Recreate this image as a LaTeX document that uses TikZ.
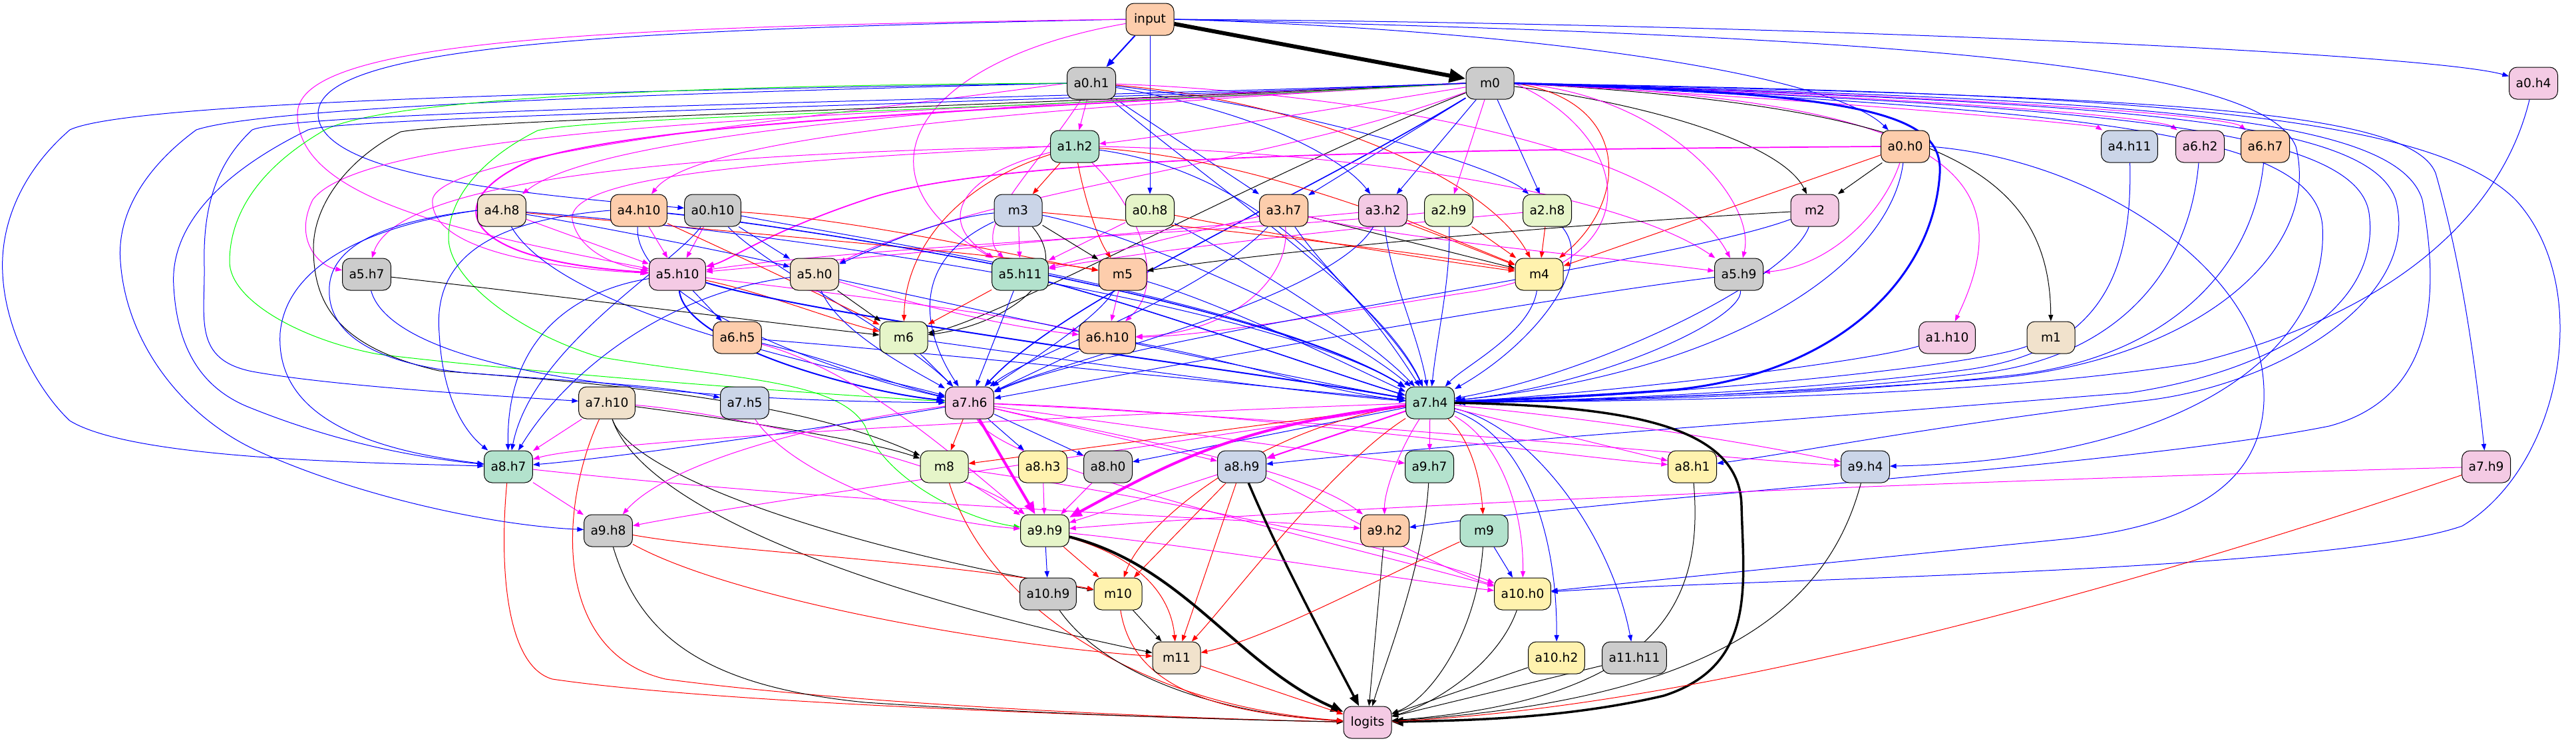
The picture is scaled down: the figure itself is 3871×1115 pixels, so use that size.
\documentclass[tikz,border=0pt]{standalone}
\usepackage{fontspec}
\setmainfont{DejaVu Sans}
\usetikzlibrary{arrows.meta}
\pgfdeclarelayer{bg}
\pgfsetlayers{bg,main}
\definecolor{cg}{HTML}{B3E2CD}
\definecolor{co}{HTML}{FDCDAC}
\definecolor{cb}{HTML}{CBD5E8}
\definecolor{cp}{HTML}{F4CAE4}
\definecolor{cl}{HTML}{E6F5C9}
\definecolor{cy}{HTML}{FFF2AE}
\definecolor{ce}{HTML}{F1E2CC}
\definecolor{cx}{HTML}{CCCCCC}
\definecolor{lb}{RGB}{0,0,255}
\definecolor{lm}{RGB}{255,0,255}
\definecolor{lr}{RGB}{255,0,0}
\definecolor{lk}{RGB}{0,0,0}
\definecolor{lg}{RGB}{0,255,0}
\tikzset{
  box/.style={draw=black, line width=0.75pt, rounded corners=9pt, minimum width=54pt, minimum height=36pt, inner xsep=7.5pt, inner ysep=2pt, font=\fontsize{14pt}{17pt}\selectfont},
  ed/.style={line width=0.75pt, -{Triangle[length=5pt 3, width=3.5pt 2.5]}},
  eb/.style={ed, lb},
  em/.style={ed, lm},
  er/.style={ed, lr},
  ek/.style={ed, lk},
  eg/.style={ed, lg},
}
\begin{document}
\begin{tikzpicture}[x=0.75pt, y=-0.75pt]
\useasboundingbox (0,0) rectangle (3871,1115);
% nodes
\node[box, fill=co] (input) at (1728,29) {input};
\node[box, fill=cx] (a0h1) at (1640,125) {a0.h1};
\node[box, fill=cx] (m0) at (2239,125) {m0};
\node[box, fill=cp] (a0h4) at (3807,125) {a0.h4};
\node[box, fill=cg] (a1h2) at (1615,220) {a1.h2};
\node[box, fill=co] (a0h0) at (2863,220) {a0.h0};
\node[box, fill=cb] (a4h11) at (3200,220) {a4.h11};
\node[box, fill=cp] (a6h2) at (3306,220) {a6.h2};
\node[box, fill=co] (a6h7) at (3404,220) {a6.h7};
\node[box, fill=ce] (a4h8) at (754,316) {a4.h8};
\node[box, fill=co] (a4h10) at (960,316) {a4.h10};
\node[box, fill=cx] (a0h10) at (1071,316) {a0.h10};
\node[box, fill=cb] (m3) at (1530,316) {m3};
\node[box, fill=cl] (a0h8) at (1728,316) {a0.h8};
\node[box, fill=co] (a3h7) at (1929,316) {a3.h7};
\node[box, fill=cp] (a3h2) at (2078,316) {a3.h2};
\node[box, fill=cl] (a2h9) at (2177,316) {a2.h9};
\node[box, fill=cl] (a2h8) at (2325,316) {a2.h8};
\node[box, fill=cp] (m2) at (2727,316) {m2};
\node[box, fill=cx] (a5h7) at (551,412) {a5.h7};
\node[box, fill=cp] (a5h10) at (1018,412) {a5.h10};
\node[box, fill=ce] (a5h0) at (1224,412) {a5.h0};
\node[box, fill=cg] (a5h11) at (1533,412) {a5.h11};
\node[box, fill=co] (m5) at (1687,412) {m5};
\node[box, fill=cy] (m4) at (2313,412) {m4};
\node[box, fill=cx] (a5h9) at (2613,412) {a5.h9};
\node[box, fill=co] (a6h5) at (1108,507) {a6.h5};
\node[box, fill=cl] (m6) at (1358,507) {m6};
\node[box, fill=co] (a6h10) at (1664,507) {a6.h10};
\node[box, fill=cp] (a1h10) at (2926,507) {a1.h10};
\node[box, fill=ce] (m1) at (3082,507) {m1};
\node[box, fill=ce] (a7h10) at (912,605) {a7.h10};
\node[box, fill=cb] (a7h5) at (1119,605) {a7.h5};
\node[box, fill=cp] (a7h6) at (1457,605) {a7.h6};
\node[box, fill=cg] (a7h4) at (2149,605) {a7.h4};
\node[box, fill=cg] (a8h7) at (764,701) {a8.h7};
\node[box, fill=cl] (m8) at (1419,701) {m8};
\node[box, fill=cy] (a8h3) at (1567,701) {a8.h3};
\node[box, fill=cx] (a8h0) at (1665,701) {a8.h0};
\node[box, fill=cb] (a8h9) at (1866,701) {a8.h9};
\node[box, fill=cg] (a9h7) at (2148,701) {a9.h7};
\node[box, fill=cy] (a8h1) at (2543,701) {a8.h1};
\node[box, fill=cb] (a9h4) at (2803,701) {a9.h4};
\node[box, fill=cp] (a7h9) at (3736,701) {a7.h9};
\node[box, fill=cx] (a9h8) at (914,797) {a9.h8};
\node[box, fill=cl] (a9h9) at (1570,797) {a9.h9};
\node[box, fill=co] (a9h2) at (2081,797) {a9.h2};
\node[box, fill=cg] (m9) at (2230,797) {m9};
\node[box, fill=cx] (a10h9) at (1575,892) {a10.h9};
\node[box, fill=cy] (m10) at (1680,892) {m10};
\node[box, fill=cy] (a10h0) at (2288,892) {a10.h0};
\node[box, fill=ce] (m11) at (1768,988) {m11};
\node[box, fill=cy] (a10h2) at (2339,988) {a10.h2};
\node[box, fill=cx] (a11h11) at (2456,988) {a11.h11};
\node[box, fill=cp] (logits) at (2055,1085) {logits};

\begin{pgfonlayer}{bg}
% input
\draw[ek, line width=4.5pt] (input) -- (m0);
\draw[eb, line width=1.5pt] (input) -- (a0h1);
\draw[eb] (input) -- (a0h8);
\draw[eb] (input.east) .. controls (2700,35) and (3650,80) .. (a0h4);
\draw[eb] (input.east) .. controls (2300,45) and (2750,110) .. (a0h0);
\draw[eb] (input.east) .. controls (2900,55) and (3400,100) .. (3450,220) .. controls (3490,380) and (3300,540) .. (3000,568) .. controls (2700,592) and (2400,600) .. (a7h4);
\draw[eb] (input.west) .. controls (900,45) and (480,70) .. (478,170) .. controls (476,260) and (760,290) .. (a0h10);
\draw[em] (input.west) .. controls (900,40) and (450,60) .. (447,170) .. controls (444,300) and (700,350) .. (a5h10);
\draw[em] (input) .. controls (1380,90) and (1270,260) .. (a5h11);
% a0.h1
\draw[em] (a0h1) -- (a1h2);
\draw[eb] (a0h1) -- (a3h7);
\draw[eb] (a0h1) .. controls (1900,170) and (2020,240) .. (a3h2);
\draw[eb] (a0h1) .. controls (1950,160) and (2250,250) .. (a2h8);
\draw[er] (a0h1) .. controls (1950,150) and (2230,260) .. (m4);
\draw[eb] (a0h1) .. controls (1850,300) and (2080,450) .. (a7h4);
\draw[em] (a0h1) .. controls (1950,135) and (2500,200) .. (a5h9);
\draw[em] (a0h1) .. controls (1560,250) and (1460,340) .. (a5h11);
\draw[em] (a0h1.west) .. controls (1200,180) and (660,230) .. (650,300) .. controls (645,380) and (850,405) .. (a5h10);
\draw[eb] (a0h1.west) .. controls (1000,135) and (200,150) .. (105,195) .. controls (30,260) and (0,340) .. (4,411) .. controls (8,500) and (60,590) .. (105,632) .. controls (200,690) and (550,695) .. (a8h7);
\draw[eb] (a0h1.west) .. controls (1000,140) and (400,160) .. (295,195) .. controls (220,250) and (175,320) .. (181,393) .. controls (190,520) and (280,630) .. (391,679) .. controls (550,750) and (750,790) .. (a9h8);
\draw[eg] (a0h1.west) .. controls (1000,128) and (550,150) .. (480,200) .. controls (380,260) and (345,330) .. (345,393) .. controls (345,450) and (450,510) .. (568,532) .. controls (800,560) and (1200,590) .. (a7h6);
% m0
\draw[em] (m0) .. controls (1900,180) and (1750,205) .. (a1h2);
\draw[em] (m0.east) .. controls (2900,150) and (3050,250) .. (a1h10);
\draw[ek] (m0.east) .. controls (2900,160) and (3080,250) .. (m1);
\draw[em] (m0) -- (a2h9);
\draw[eb] (m0) -- (a2h8);
\draw[ek] (m0) .. controls (2500,160) and (2680,220) .. (m2);
\draw[eb] (m0) -- (a3h7);
\draw[eb] (m0) -- (a3h2);
\draw[er] (m0.east) .. controls (2450,150) and (2450,300) .. (m4);
\draw[em] (m0.east) .. controls (2900,160) and (3150,190) .. (a4h11);
\draw[em] (m0.east) .. controls (3000,150) and (3250,180) .. (a6h2);
\draw[em] (m0.east) .. controls (3000,145) and (3350,175) .. (a6h7);
\draw[em] (m0.west) .. controls (1500,150) and (900,200) .. (a4h8);
\draw[em] (m0.west) .. controls (1600,160) and (1050,200) .. (a4h10);
\draw[em, line width=1.5pt] (m0.west) .. controls (1500,165) and (1000,180) .. (800,240) .. controls (660,300) and (680,390) .. (a5h10);
\draw[em] (m0.west) .. controls (1400,170) and (560,180) .. (470,300) .. controls (440,360) and (480,400) .. (a5h7);
\draw[em] (m0.east) .. controls (2500,140) and (2640,300) .. (a5h9);
\draw[em] (m0) .. controls (1900,250) and (1500,280) .. (a5h0);
\draw[em] (m0.east) .. controls (2450,200) and (2500,400) .. (2200,440) .. controls (1950,480) and (1800,505) .. (a6h10);
\draw[ek] (m0) .. controls (1900,260) and (1500,480) .. (m6);
\draw[ek] (m0.west) .. controls (1500,160) and (700,180) .. (602,198) .. controls (520,240) and (470,310) .. (471,375) .. controls (472,450) and (500,520) .. (660,557) .. controls (900,575) and (1200,600) .. (m8);
\draw[eb, line width=2.25pt] (m0.east) .. controls (2800,140) and (2920,170) .. (2915,260) .. controls (2905,420) and (2760,560) .. (2520,585) .. controls (2380,596) and (2260,600) .. (a7h4);
\draw[eb, line width=1.2pt] (m0) .. controls (1950,300) and (1600,450) .. (a7h6);
\draw[eg] (m0.west) .. controls (1500,166) and (900,175) .. (808,196) .. controls (720,240) and (674,300) .. (674,357) .. controls (674,420) and (780,500) .. (900,536) .. controls (1100,570) and (1260,570) .. (1300,640) .. controls (1330,720) and (1450,780) .. (a9h9);
\draw[eb] (m0.west) .. controls (1500,150) and (450,165) .. (379,195) .. controls (320,250) and (305,320) .. (307,400) .. controls (308,480) and (290,540) .. (379,558) .. controls (500,580) and (750,595) .. (a7h10);
\draw[eb] (m0.west) .. controls (1500,155) and (520,175) .. (463,195) .. controls (330,260) and (255,340) .. (261,430) .. controls (266,520) and (300,580) .. (370,610) .. controls (480,655) and (600,685) .. (a8h7);
\draw[eb] (m0.east) .. controls (3200,140) and (3650,170) .. (3780,300) .. controls (3900,430) and (3850,700) .. (3700,790) .. controls (3500,860) and (2600,870) .. (a10h0);
\draw[eb] (m0.east) .. controls (3200,145) and (3620,160) .. (3660,260) .. controls (3700,400) and (3720,550) .. (a7h9);
\draw[eb] (m0.east) .. controls (3200,150) and (3600,170) .. (3640,300) .. controls (3670,460) and (3650,600) .. (3500,640) .. controls (3200,700) and (2500,740) .. (a9h2);
\draw[eb] (m0.east) .. controls (3200,155) and (3560,180) .. (3600,300) .. controls (3640,450) and (3420,580) .. (3220,602) .. controls (2900,640) and (2700,680) .. (a8h1);
\draw[eb] (m0.east) .. controls (3150,160) and (3540,190) .. (3560,320) .. controls (3580,470) and (3400,560) .. (3200,590) .. controls (2700,630) and (2150,670) .. (a8h9);
\draw[eb] (m0.east) .. controls (3150,165) and (3480,200) .. (3490,340) .. controls (3500,520) and (3300,690) .. (a9h4);
% a0.h0
\draw[ek] (a0h0) -- (m2);
\draw[er] (a0h0) -- (m4);
\draw[em] (a0h0) .. controls (2830,320) and (2750,400) .. (a5h9);
\draw[em, line width=1.3pt] (a0h0.west) .. controls (2200,225) and (1500,230) .. (1300,300) .. controls (1150,350) and (1100,390) .. (a5h10);
\draw[eb] (a0h0) .. controls (2840,400) and (2600,560) .. (a7h4);
\draw[eb] (a0h0.east) .. controls (3150,240) and (3380,400) .. (3400,560) .. controls (3420,720) and (3300,790) .. (3100,810) .. controls (2800,840) and (2500,870) .. (a10h0);
% a0.h4
\draw[eb] (a0h4) .. controls (3760,320) and (3600,470) .. (3300,545) .. controls (2950,600) and (2450,602) .. (a7h4);
% a0.h8
\draw[er] (a0h8) .. controls (1900,350) and (2150,390) .. (m4);
\draw[em] (a0h8) -- (a5h11);
\draw[eb] (a0h8) .. controls (1850,380) and (2050,500) .. (a7h4);
% a0.h10
\draw[em] (a0h10) -- (a5h10);
\draw[eb] (a0h10) -- (a5h0);
\draw[er] (a0h10) .. controls (1300,330) and (1550,390) .. (m5);
\draw[eb] (a0h10) .. controls (1300,360) and (1900,450) .. (a7h4);
\draw[eb] (a0h10) .. controls (1010,400) and (800,520) .. (a8h7);
\draw[eb] (a0h10) .. controls (1150,400) and (1350,500) .. (a7h6);
% a1.h2
\draw[er] (a1h2) -- (m3);
\draw[er] (a1h2) .. controls (1630,300) and (1650,360) .. (m5);
\draw[er] (a1h2) .. controls (1430,280) and (1360,380) .. (m6);
\draw[er] (a1h2) .. controls (1900,240) and (2150,350) .. (m4);
\draw[em] (a1h2) .. controls (1450,260) and (1400,330) .. (a5h11);
\draw[em] (a1h2) .. controls (1700,300) and (1760,420) .. (a6h10);
\draw[eb] (a1h2) .. controls (1900,260) and (2050,450) .. (a7h4);
\draw[em] (a1h2.west) .. controls (1100,230) and (600,260) .. (a5h7);
\draw[em] (a1h2.east) .. controls (2100,230) and (2450,300) .. (a5h9);
\draw[em] (a1h2.west) .. controls (1200,240) and (850,260) .. (860,330) .. controls (870,380) and (930,400) .. (a5h10);
% a1.h10, m1
\draw[eb] (a1h10) .. controls (2800,545) and (2400,592) .. (a7h4);
\draw[eb] (m1) .. controls (2950,555) and (2450,598) .. (a7h4);
% a2.h9, a2.h8
\draw[er] (a2h9) -- (m4);
\draw[em] (a2h9) .. controls (1900,345) and (1300,370) .. (a5h10);
\draw[eb] (a2h9) .. controls (2180,420) and (2160,500) .. (a7h4);
\draw[er] (a2h8) -- (m4);
\draw[em] (a2h8) .. controls (2000,345) and (1700,380) .. (a5h11);
\draw[eb] (a2h8) .. controls (2400,400) and (2300,520) .. (a7h4);
% m2
\draw[ek] (m2) .. controls (2300,340) and (1900,380) .. (m5);
\draw[eb] (m2) .. controls (2690,420) and (2400,560) .. (a7h4);
\draw[eb] (m2) .. controls (2500,400) and (1700,500) .. (a7h6);
% a3.h7
\draw[ek] (a3h7) -- (m4);
\draw[em] (a3h7) -- (a5h11);
\draw[em] (a3h7) .. controls (1940,420) and (1850,500) .. (a6h10);
\draw[eb] (a3h7) .. controls (2000,420) and (2100,500) .. (a7h4);
\draw[eb] (a3h7) .. controls (1800,450) and (1550,530) .. (a7h6);
\draw[em] (a3h7) .. controls (2100,360) and (2450,390) .. (a5h9);
% a3.h2
\draw[er] (a3h2) -- (m4);
\draw[em] (a3h2) -- (a5h10);
\draw[eb] (a3h2) .. controls (2090,420) and (2130,500) .. (a7h4);
\draw[eb] (a3h2) .. controls (2000,450) and (1600,540) .. (a7h6);
% m3
\draw[ek] (m3) -- (m5);
\draw[ek] (m3) .. controls (1620,420) and (1500,490) .. (m6);
\draw[em] (m3) -- (a5h11);
\draw[eb] (m3) .. controls (1400,330) and (1300,380) .. (a5h0);
\draw[er] (m3) .. controls (1800,340) and (2150,380) .. (m4);
\draw[eb] (m3) .. controls (1700,350) and (2000,480) .. (a7h4);
\draw[eb] (m3) .. controls (1350,400) and (1400,520) .. (a7h6);
% a4.h8
\draw[em] (a4h8) -- (a5h10);
\draw[eb] (a4h8) .. controls (900,340) and (1150,390) .. (a5h0);
\draw[er] (a4h8) .. controls (1000,340) and (1500,380) .. (m5);
\draw[eb] (a4h8) .. controls (850,480) and (1300,560) .. (a7h6);
\draw[eb] (a4h8.west) .. controls (550,340) and (430,400) .. (421,500) .. controls (415,600) and (500,670) .. (a8h7);
\draw[eb] (a4h8.west) .. controls (600,330) and (500,360) .. (495,430) .. controls (490,500) and (560,545) .. (700,560) .. controls (900,575) and (1000,580) .. (a7h5);
\draw[eb] (a4h8) .. controls (1100,340) and (1900,450) .. (a7h4);
% a4.h10
\draw[em] (a4h10) -- (a5h10);
\draw[er] (a4h10) .. controls (1100,380) and (1250,450) .. (m6);
\draw[eb, line width=1.2pt] (a4h10) .. controls (1200,340) and (1900,450) .. (a7h4);
\draw[eb] (a4h10) .. controls (950,450) and (1250,560) .. (a7h6);
\draw[eb] (a4h10.west) .. controls (750,330) and (650,380) .. (660,500) .. controls (665,600) and (700,650) .. (a8h7);
% a4.h11, a6.h2, a6.h7
\draw[eb] (a4h11) .. controls (3205,420) and (3150,530) .. (2950,556) .. controls (2700,588) and (2420,600) .. (a7h4);
\draw[eb] (a6h2) .. controls (3290,410) and (3180,535) .. (2980,560) .. controls (2720,592) and (2430,601) .. (a7h4);
\draw[eb] (a6h7) .. controls (3385,410) and (3250,540) .. (3020,564) .. controls (2740,594) and (2440,602) .. (a7h4);
% m4
\draw[eb] (m4) .. controls (2300,500) and (2200,550) .. (a7h4);
% a5.h7
\draw[ek] (a5h7) .. controls (800,440) and (1200,490) .. (m6);
\draw[eb] (a5h7) .. controls (580,520) and (800,600) .. (a7h6);
% a5.h10
\draw[eb] (a5h10) -- (a6h5);
\draw[er] (a5h10) .. controls (1150,440) and (1250,480) .. (m6);
\draw[eb, line width=1.5pt] (a5h10) .. controls (1250,480) and (1900,560) .. (a7h4);
\draw[eb, line width=1.5pt] (a5h10) .. controls (1030,520) and (1300,590) .. (a7h6);
\draw[eb] (a5h10) .. controls (900,430) and (760,480) .. (a8h7);
\draw[em] (a5h10) .. controls (1250,440) and (1500,470) .. (a6h10);
% a5.h0
\draw[ek] (a5h0) -- (m6);
\draw[eb] (a5h0) .. controls (1260,500) and (1380,560) .. (a7h6);
\draw[eb] (a5h0) .. controls (1400,450) and (1900,560) .. (a7h4);
\draw[em] (a5h0) .. controls (1350,450) and (1500,490) .. (a6h10);
\draw[eb] (a5h0) .. controls (1000,440) and (850,560) .. (a8h7);
% a5.h11
\draw[er] (a5h11) -- (m6);
\draw[eb] (a5h11) -- (a7h6);
\draw[eb, line width=1.2pt] (a5h11) .. controls (1750,470) and (2000,560) .. (a7h4);
% m5
\draw[em] (m5) -- (a6h10);
\draw[eb] (m5) .. controls (1650,480) and (1520,560) .. (a7h6);
\draw[eb] (m5) .. controls (1850,460) and (2050,560) .. (a7h4);
% a5.h9
\draw[eb] (a5h9) .. controls (2620,480) and (2400,580) .. (a7h4);
\draw[eb] (a5h9) .. controls (2300,450) and (1700,560) .. (a7h6);
% a6.h5
\draw[eb] (a6h5) .. controls (1250,540) and (1350,580) .. (a7h6);
\draw[eb] (a6h5) .. controls (1400,530) and (1900,580) .. (a7h4);
\draw[em] (a6h5) .. controls (1300,560) and (1450,700) .. (a9h9);
% m6
\draw[eb] (m6) -- (a7h6);
\draw[eb] (m6) .. controls (1600,540) and (1950,590) .. (a7h4);
% a6.h10
\draw[eb] (a6h10) -- (a7h6);
\draw[eb] (a6h10) .. controls (1850,540) and (2000,590) .. (a7h4);
% a7.h10
\draw[em] (a7h10) -- (a8h7);
\draw[ek] (a7h10) .. controls (1100,630) and (1300,660) .. (m8);
\draw[em] (a7h10) .. controls (1100,620) and (1450,700) .. (a9h9);
\draw[ek] (a7h10) .. controls (950,720) and (1300,830) .. (m10);
\draw[ek] (a7h10) .. controls (960,750) and (1250,880) .. (m11);
\draw[er] (a7h10) .. controls (840,760) and (830,980) .. (1000,1020) .. controls (1300,1060) and (1800,1080) .. (logits);
% a7.h5
\draw[em] (a7h5) .. controls (1180,700) and (1350,780) .. (a9h9);
% a7.h6
\draw[er] (a7h6) -- (m8);
\draw[eb] (a7h6) -- (a8h3);
\draw[eb] (a7h6) -- (a8h0);
\draw[em] (a7h6) -- (a8h9);
\draw[em, line width=3pt] (a7h6) -- (a9h9);
\draw[em] (a7h6) .. controls (1900,620) and (2300,680) .. (a8h1);
\draw[em] (a7h6) .. controls (2000,630) and (2600,690) .. (a9h4);
\draw[em] (a7h6) .. controls (1700,640) and (2000,680) .. (a9h7);
\draw[em] (a7h6) .. controls (1700,660) and (1950,700) .. (a9h2);
\draw[em] (a7h6) .. controls (1200,640) and (1000,700) .. (a9h8);
\draw[eb] (a7h6) .. controls (1200,650) and (900,690) .. (a8h7);
\draw[em] (a7h6) .. controls (1500,700) and (1950,800) .. (a10h0);
% a7.h4
\draw[er] (a7h4) -- (m8);
\draw[eb] (a7h4) -- (a8h0);
\draw[em, line width=1.5pt] (a7h4) -- (a8h9);
\draw[em, line width=3pt] (a7h4) .. controls (1850,640) and (1750,700) .. (a9h9);
\draw[em] (a7h4) -- (a9h7);
\draw[em] (a7h4) .. controls (2100,680) and (2080,740) .. (a9h2);
\draw[er] (a7h4) .. controls (2210,660) and (2225,720) .. (m9);
\draw[em] (a7h4) .. controls (2250,660) and (2290,760) .. (a10h0);
\draw[eb] (a7h4) .. controls (2280,650) and (2340,780) .. (a10h2);
\draw[eb] (a7h4) .. controls (2300,640) and (2420,800) .. (a11h11);
\draw[em] (a7h4) -- (a8h1);
\draw[em] (a7h4) .. controls (2500,640) and (2700,680) .. (a9h4);
\draw[er] (a7h4) .. controls (2000,700) and (1850,900) .. (m11);
\draw[er] (a7h4) .. controls (1900,640) and (1720,780) .. (m10);
\draw[em] (a7h4) .. controls (1700,620) and (900,660) .. (a8h7);
\draw[em] (a7h4) .. controls (1600,690) and (1100,760) .. (a9h8);
\draw[ek, line width=2.6pt] (a7h4.east) .. controls (2450,610) and (2615,640) .. (2617,760) .. controls (2620,880) and (2640,1000) .. (2500,1045) .. controls (2350,1080) and (2200,1082) .. (logits);
% a7.h9
\draw[em] (a7h9) .. controls (3000,720) and (2000,760) .. (a9h9);
\draw[er] (a7h9) .. controls (3300,850) and (2600,1060) .. (logits);
% a8.h7
\draw[em] (a8h7) -- (a9h8);
\draw[er] (a8h7) .. controls (750,850) and (760,1000) .. (830,1020) .. controls (1100,1060) and (1800,1080) .. (logits);
\draw[em] (a8h7) .. controls (1300,760) and (1900,780) .. (a9h2);
% m8
\draw[em] (m8) -- (a9h9);
\draw[er] (m8) .. controls (1480,900) and (1700,1060) .. (logits);
\draw[em] (m8) .. controls (1700,740) and (2100,820) .. (a10h0);
% a8.h3, a8.h0
\draw[em] (a8h3) -- (a9h9);
\draw[em] (a8h0) -- (a9h9);
% a8.h9
\draw[em] (a8h9) -- (a9h9);
\draw[er] (a8h9) -- (m10);
\draw[er] (a8h9) -- (m11);
\draw[ek, line width=2.6pt] (a8h9) .. controls (1920,830) and (2000,980) .. (logits);
\draw[em] (a8h9) .. controls (2000,760) and (2150,850) .. (a10h0);
% a8.h1, a9.h4
\draw[ek] (a8h1) .. controls (2560,900) and (2500,1050) .. (logits);
\draw[ek] (a9h4) .. controls (2750,900) and (2600,1050) .. (logits);
% a9.h8
\draw[er] (a9h8) .. controls (1100,830) and (1400,840) .. (m10);
\draw[er] (a9h8) .. controls (1100,900) and (1500,970) .. (m11);
\draw[ek] (a9h8) .. controls (960,950) and (1050,1030) .. (1300,1055) .. controls (1600,1075) and (1900,1082) .. (logits);
% a9.h9
\draw[eb] (a9h9) -- (a10h9);
\draw[er] (a9h9) -- (m10);
\draw[er] (a9h9) .. controls (1720,840) and (1760,900) .. (m11);
\draw[ek, line width=3pt] (a9h9) .. controls (1780,850) and (1860,1000) .. (logits);
\draw[em] (a9h9) .. controls (1800,820) and (2100,870) .. (a10h0);
% a9.h7, a9.h2, m9
\draw[ek] (a9h7) .. controls (2140,850) and (2080,1000) .. (logits);
\draw[ek] (a9h2) -- (logits);
\draw[ek] (m9) .. controls (2220,950) and (2150,1050) .. (logits);
\draw[eb] (m9) -- (a10h0);
\draw[er] (m9) .. controls (2050,880) and (1900,960) .. (m11);
% layer 10/11
\draw[ek] (a10h9) .. controls (1650,1000) and (1800,1070) .. (logits);
\draw[ek] (m10) -- (m11);
\draw[er] (m10) .. controls (1700,1020) and (1800,1070) .. (logits);
\draw[ek] (a10h0) .. controls (2250,1000) and (2150,1060) .. (logits);
\draw[ek] (a10h2) -- (logits);
\draw[ek] (a11h11) -- (logits);
\draw[er] (m11) -- (logits);
\end{pgfonlayer}
\end{tikzpicture}
\end{document}
